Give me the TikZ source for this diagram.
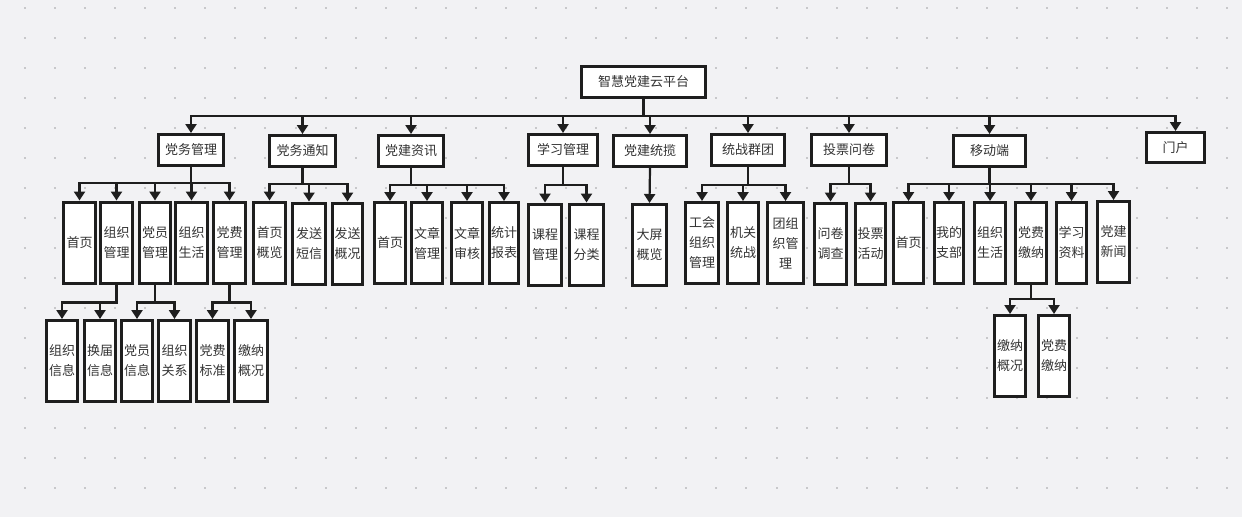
\documentclass[tikz,border=0pt]{standalone}
\usepackage{fontspec}
\setmainfont{Noto Sans CJK SC}
\usetikzlibrary{arrows.meta}
\definecolor{bgcol}{HTML}{F2F2F4}
\definecolor{dotcol}{HTML}{C8C8CA}
\definecolor{linecol}{HTML}{1E1E1E}
\definecolor{txtcol}{HTML}{333333}
\begin{document}
\begin{tikzpicture}[x=1pt,y=-1pt,
    box/.style={draw=linecol,line width=3pt,fill=white,text=txtcol,inner sep=0pt,
        font=\fontsize{13}{20}\selectfont,align=center,minimum height=31pt},
    tallbox/.style={box,minimum width=31.5pt,minimum height=81pt},
    arr/.style={draw=linecol,line width=2.2pt,-{Triangle[width=11pt,length=9pt]}}]
    \fill[bgcol] (0,0) rectangle (1242,517);
    \useasboundingbox (0,0) rectangle (1242,517);
    \foreach \i in {0,...,41}
        \foreach \j in {0,...,16}
            \fill[dotcol] (24+30.06*\i,7+30*\j) rectangle ++(2,2);
    \node[box,minimum width=124pt] (root) at (643.5,82) {智慧党建云平台};
    \node[box,minimum width=65pt] (dwgl) at (191,150) {党务管理};
    \node[box,minimum width=66pt] (dwtz) at (302.5,151) {党务通知};
    \node[box,minimum width=65pt] (djzx) at (411,151) {党建资讯};
    \node[box,minimum width=69pt] (xxgl) at (563,150) {学习管理};
    \node[box,minimum width=73pt] (djtl) at (650,151) {党建统揽};
    \node[box,minimum width=73pt] (zzqt) at (748,150) {统战群团};
    \node[box,minimum width=75pt] (tpwj) at (849,150) {投票问卷};
    \node[box,minimum width=72pt] (ydd) at (989.5,151) {移动端};
    \node[box,minimum width=58pt,minimum height=30pt] (mh) at (1175.5,147.5) {门户};
    \node[tallbox] (dwgl1) at (79.5,242.5) {首页};
    \node[tallbox] (dwgl2) at (116.5,242.5) {组织\\管理};
    \node[tallbox] (dwgl3) at (155,242.5) {党员\\管理};
    \node[tallbox] (dwgl4) at (191.5,242.5) {组织\\生活};
    \node[tallbox,minimum width=32.5pt] (dwgl5) at (229.5,242.5) {党费\\管理};
    \node[tallbox,minimum width=32.5pt] (dwtz1) at (269.5,242.5) {首页\\概览};
    \node[tallbox,minimum width=33pt] (dwtz2) at (309,243.5) {发送\\短信};
    \node[tallbox,minimum width=30.5pt] (dwtz3) at (347.5,243.5) {发送\\概况};
    \node[tallbox] (djzx1) at (390,243) {首页};
    \node[tallbox] (djzx2) at (427,243) {文章\\管理};
    \node[tallbox] (djzx3) at (467,243) {文章\\审核};
    \node[tallbox,minimum width=29.5pt] (djzx4) at (504,243) {统计\\报表};
    \node[tallbox,minimum width=33pt] (xxgl1) at (545,244.5) {课程\\管理};
    \node[tallbox,minimum width=34pt] (xxgl2) at (586.5,244.5) {课程\\分类};
    \node[tallbox,minimum width=34pt] (djtl1) at (649.5,245) {大屏\\概览};
    \node[tallbox,minimum width=33pt] (zzqt1) at (702,243) {工会\\组织\\管理};
    \node[tallbox] (zzqt2) at (743,243) {机关\\统战};
    \node[tallbox,minimum width=36pt] (zzqt3) at (785.5,243) {团组\\织管\\理};
    \node[tallbox,minimum width=32.5pt] (tpwj1) at (830.5,243.5) {问卷\\调查};
    \node[tallbox,minimum width=30.5pt] (tpwj2) at (870.5,243.5) {投票\\活动};
    \node[tallbox,minimum width=30.5pt] (ydd1) at (908.5,243) {首页};
    \node[tallbox,minimum width=29.5pt] (ydd2) at (949,243) {我的\\支部};
    \node[tallbox] (ydd3) at (990,243) {组织\\生活};
    \node[tallbox] (ydd4) at (1031,243) {党费\\缴纳};
    \node[tallbox,minimum width=30.5pt] (ydd5) at (1071.5,243) {学习\\资料};
    \node[tallbox,minimum width=32.5pt] (ydd6) at (1113.5,242) {党建\\新闻};
    \node[tallbox] (dwgl21) at (62,361) {组织\\信息};
    \node[tallbox] (dwgl22) at (100,361) {换届\\信息};
    \node[tallbox] (dwgl31) at (137,361) {党员\\信息};
    \node[tallbox,minimum width=32.5pt] (dwgl32) at (174.5,361) {组织\\关系};
    \node[tallbox,minimum width=32.5pt] (dwgl51) at (212.5,361) {党费\\标准};
    \node[tallbox,minimum width=33pt] (dwgl52) at (251,361) {缴纳\\概况};
    \node[tallbox] (ydd41) at (1010,356) {缴纳\\概况};
    \node[tallbox] (ydd42) at (1054,356) {党费\\缴纳};
    \foreach \c in {dwgl,dwtz,djzx,xxgl,djtl,zzqt,tpwj,ydd,mh}
        \draw[arr] (root.south) -- ++(0,17) -| (\c.north);
    \foreach \c in {1,...,5}
        \draw[arr] (dwgl.south) -- ++(0,16) -| (dwgl\c.north);
    \foreach \c in {1,2,3}
        \draw[arr] (dwtz.south) -- ++(0,16) -| (dwtz\c.north);
    \foreach \c in {1,...,4}
        \draw[arr] (djzx.south) -- ++(0,17) -| (djzx\c.north);
    \foreach \c in {1,2}
        \draw[arr] (xxgl.south) -- ++(0,18) -| (xxgl\c.north);
    \draw[arr] (djtl.south) -- (djtl1.north);
    \foreach \c in {1,2,3}
        \draw[arr] (zzqt.south) -- ++(0,18) -| (zzqt\c.north);
    \foreach \c in {1,2}
        \draw[arr] (tpwj.south) -- ++(0,17) -| (tpwj\c.north);
    \foreach \c in {1,...,6}
        \draw[arr] (ydd.south) -- ++(0,16) -| (ydd\c.north);
    \foreach \p in {2,3,5}
        \foreach \c in {1,2}
            \draw[arr] (dwgl\p.south) -- ++(0,18) -| (dwgl\p\c.north);
    \foreach \c in {1,2}
        \draw[arr] (ydd4.south) -- ++(0,14) -| (ydd4\c.north);
\end{tikzpicture}
\end{document}
